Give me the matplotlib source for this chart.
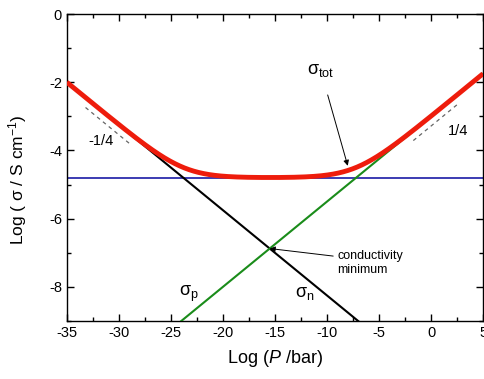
import numpy as np
import matplotlib.pyplot as plt
from matplotlib.ticker import MultipleLocator

plt.rcParams['font.family'] = ['Liberation Sans', 'DejaVu Sans']
plt.rcParams['mathtext.fontset'] = 'custom'
plt.rcParams['mathtext.rm'] = 'Liberation Sans'
plt.rcParams['mathtext.it'] = 'Liberation Sans:italic'
plt.rcParams['axes.unicode_minus'] = False

# log(P/bar) grid
logP = np.linspace(-35, 5, 801)

# Defect conductivity model parameters (log10 values)
ionic_level = -4.8          # pressure-independent ionic part
n_anchor = (-7.0, -9.0)     # point on the n-type line
p_anchor = (-24.0, -9.0)    # point on the p-type line
n_slope = -0.25
p_slope = 0.25

log_sn = n_anchor[1] + n_slope * (logP - n_anchor[0])
log_sp = p_anchor[1] + p_slope * (logP - p_anchor[0])
log_si = np.full_like(logP, ionic_level)
log_tot = np.log10(10**log_sn + 10**log_sp + 10**log_si)

fig = plt.figure(figsize=(4.84, 3.79), dpi=100)
ax = fig.add_axes([0.138, 0.153, 0.860, 0.810])

ax.plot(logP, log_si, color='#1a1aa6', lw=1.2, zorder=2)
ax.plot(logP, log_sn, color='black', lw=1.5, zorder=3)
ax.plot(logP, log_sp, color='#1a8c1a', lw=1.5, zorder=3)
ax.plot(logP, log_tot, color='#ee1c0c', lw=3.5, zorder=4, solid_capstyle='butt')

# slope guides
gx1 = np.array([-33.2, -29.0])
ax.plot(gx1, -2.74 + n_slope * (gx1 - gx1[0]), ls=(0, (3, 3)), color='#666666', lw=0.9)
gx2 = np.array([-1.7, 2.6])
ax.plot(gx2, -3.71 + p_slope * (gx2 - gx2[0]), ls=(0, (3, 3)), color='#666666', lw=0.9)

ax.text(-32.9, -3.72, '-1/4', fontsize=10.5, ha='left', va='center')
ax.text(1.6, -3.42, '1/4', fontsize=10.5, ha='left', va='center')

ax.text(-23.3, -8.2, r'$\mathrm{σ}_\mathrm{p}$', fontsize=13, ha='center', va='center')
ax.text(-12.1, -8.2, r'$\mathrm{σ}_\mathrm{n}$', fontsize=13, ha='center', va='center')

# total conductivity label and arrow
ax.annotate(r'$\mathrm{σ}_\mathrm{tot}$', xy=(-8.0, -4.45), xytext=(-10.6, -1.65),
            fontsize=13, ha='center', va='center',
            arrowprops=dict(arrowstyle='-|>', color='black', lw=0.7,
                            mutation_scale=8, shrinkA=10, shrinkB=0))

# conductivity minimum at the n/p crossing
x_min = (n_anchor[1] - p_anchor[1] - n_slope * n_anchor[0] + p_slope * p_anchor[0]) / (p_slope - n_slope)
y_min = n_anchor[1] + n_slope * (x_min - n_anchor[0])
ax.annotate('conductivity\nminimum', xy=(x_min, y_min), xytext=(-9.0, -7.3),
            fontsize=9, ha='left', va='center', linespacing=1.2,
            arrowprops=dict(arrowstyle='-|>', color='black', lw=0.7,
                            mutation_scale=8, shrinkA=1, shrinkB=0,
                            relpos=(0.0, 0.75)))

ax.set_xlim(-35, 5)
ax.set_ylim(-9, 0)
ax.xaxis.set_major_locator(MultipleLocator(5))
ax.xaxis.set_minor_locator(MultipleLocator(2.5))
ax.yaxis.set_major_locator(MultipleLocator(2))
ax.yaxis.set_minor_locator(MultipleLocator(1))
ax.tick_params(which='both', direction='in', top=True, right=True, labelsize=10.5, width=1.0)
ax.tick_params(which='major', length=5)
ax.tick_params(which='minor', length=3)
for s in ax.spines.values():
    s.set_linewidth(1.0)

ax.set_xlabel(r'Log ($\mathit{P}$ /bar)', fontsize=13, labelpad=6)
ax.set_ylabel(r'Log ( σ / S cm$^{-1}$)', fontsize=12.5)
ax.yaxis.set_label_coords(-0.09, 0.46)

fig.savefig('out.png', dpi=100)
